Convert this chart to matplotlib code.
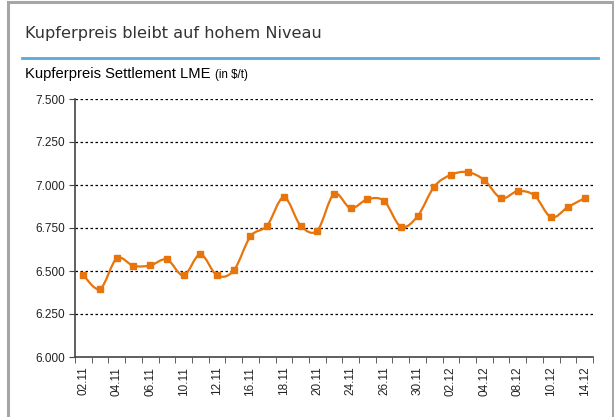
import numpy as np
import matplotlib.pyplot as plt
from matplotlib.path import Path
from matplotlib.patches import PathPatch, Rectangle
from matplotlib.ticker import FuncFormatter

# copper price, LME settlement, $/t (Nov-Dec trading days)
dates = ['02.11', '03.11', '04.11', '05.11', '06.11', '09.11', '10.11', '11.11',
         '12.11', '13.11', '16.11', '17.11', '18.11', '19.11', '20.11', '23.11',
         '24.11', '25.11', '26.11', '27.11', '30.11', '01.12', '02.12', '03.12',
         '04.12', '07.12', '08.12', '09.12', '10.12', '11.12', '14.12']
prices = [6476, 6396, 6573, 6530, 6532, 6567, 6474, 6597, 6474, 6503,
          6701, 6764, 6929, 6764, 6735, 6948, 6865, 6917, 6907, 6758,
          6818, 6991, 7059, 7075, 7028, 6923, 6964, 6939, 6812, 6872, 6923]
yticks = [6000, 6250, 6500, 6750, 7000, 7250, 7500]

orange = '#e8740c'

fig = plt.figure(figsize=(6.14, 4.17), dpi=100)

# outer frame + header
fig.patches.append(Rectangle((8/614, -0.1), 605/614, 1.1 - 2/417, transform=fig.transFigure,
                             fill=False, edgecolor='#a6a6a6', linewidth=2.2))
fig.text(25/614, 1 - 38/417, 'Kupferpreis bleibt auf hohem Niveau', fontsize=11.6,
         color='#333333', family='DejaVu Sans', va='baseline')
fig.add_artist(plt.Line2D([22/614, 598/614], [1 - 58/417, 1 - 58/417],
                          transform=fig.transFigure, color='#5aaad6', linewidth=2))
t = fig.text(25/614, 1 - 78/417, 'Kupferpreis Settlement LME ', fontsize=10.6,
             family='Liberation Sans', color='black', va='baseline')
fig.canvas.draw()
bb = t.get_window_extent()
fig.text(bb.x1 / fig.bbox.width, 1 - 78/417, '(in $/t)', fontsize=8.3,
         family='Liberation Sans', va='baseline')

ax = fig.add_axes([75/614, 1 - 357/417, (593 - 75)/614, (357 - 99)/417])
x = np.arange(len(prices))
y = np.array(prices, dtype=float)

# smoothed line (Excel-style cubic bezier through the points)
verts = [(x[0], y[0])]
codes = [Path.MOVETO]
n = len(x)
for i in range(n - 1):
    p0 = np.array([x[max(i - 1, 0)], y[max(i - 1, 0)]])
    p1 = np.array([x[i], y[i]])
    p2 = np.array([x[i + 1], y[i + 1]])
    p3 = np.array([x[min(i + 2, n - 1)], y[min(i + 2, n - 1)]])
    c1 = p1 + (p2 - p0) / 6
    c2 = p2 - (p3 - p1) / 6
    verts += [tuple(c1), tuple(c2), tuple(p2)]
    codes += [Path.CURVE4] * 3
ax.add_patch(PathPatch(Path(verts, codes), facecolor='none', edgecolor=orange,
                       linewidth=1.6, zorder=3))
ax.plot(x, y, linestyle='none', marker='s', markersize=4.3, color=orange, zorder=4)

ax.set_xlim(-0.5, len(prices) - 0.5)
ax.set_ylim(6000, 7500)
ax.set_yticks(yticks)
ax.yaxis.set_major_formatter(FuncFormatter(lambda v, p: f'{int(v):,}'.replace(',', '.')))
ax.set_xticks(x[::2])
ax.set_xticklabels(dates[::2], rotation=90)
ax.set_xticks(np.arange(len(prices) + 1) - 0.5, minor=True)
ax.tick_params(axis='x', which='major', length=0, pad=7)
ax.tick_params(axis='x', which='minor', length=4, direction='out', color='#444444')
ax.tick_params(axis='y', length=4, direction='out', color='#444444', pad=3)
for lab in ax.get_xticklabels() + ax.get_yticklabels():
    lab.set_family('Liberation Sans')
    lab.set_fontsize(8.5)
    lab.set_color('#222222')

for v in yticks[1:]:
    ax.axhline(v, color='black', linestyle=(0, (2, 2)), linewidth=0.9, zorder=1)
for s in ['top', 'right']:
    ax.spines[s].set_visible(False)
for s in ['left', 'bottom']:
    ax.spines[s].set_color('#444444')
    ax.spines[s].set_linewidth(1.2)

fig.savefig('out.png', dpi=100)
